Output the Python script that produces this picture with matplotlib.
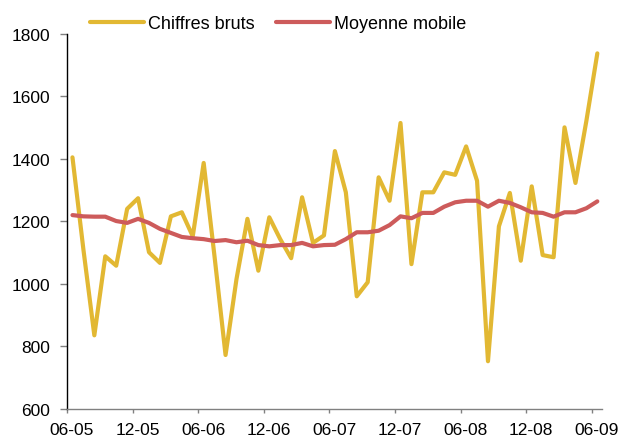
import numpy as np
import matplotlib
matplotlib.use("Agg")
import matplotlib.pyplot as plt

plt.rcParams['font.family'] = ['Liberation Sans', 'DejaVu Sans']

# monthly values, June 2005 .. June 2009
raw = [1405, 1110, 835, 1088, 1058, 1240, 1274, 1101, 1067, 1216,
       1229, 1152, 1387, 1085, 772, 1015, 1208, 1042, 1213, 1143,
       1082, 1277, 1131, 1155, 1425, 1293, 960, 1005, 1341, 1266,
       1515, 1063, 1293, 1293, 1357, 1349, 1440, 1330, 752, 1184,
       1291, 1074, 1312, 1092, 1085, 1501, 1323, 1522, 1738]
moving_avg = [1220, 1216, 1215, 1215, 1201, 1195, 1208, 1195, 1176, 1163,
              1150, 1146, 1143, 1137, 1140, 1133, 1138, 1124, 1120, 1124,
              1124, 1131, 1120, 1124, 1125, 1143, 1165, 1165, 1170, 1188,
              1216, 1210, 1227, 1227, 1247, 1261, 1266, 1266, 1247, 1266,
              1259, 1245, 1229, 1227, 1215, 1229, 1229, 1242, 1264]
tick_labels = ["06-05", "12-05", "06-06", "12-06", "06-07",
               "12-07", "06-08", "12-08", "06-09"]
series_names = ["Chiffres bruts", "Moyenne mobile"]

x = np.arange(len(raw)) + 0.5  # points sit mid-month

fig = plt.figure(figsize=(6.19, 4.39), dpi=100)
ax = fig.add_axes([67 / 619, 29.3 / 439, 534.7 / 619, 374.7 / 439])

ax.plot(x, raw, color='#E2B833', lw=3.0, solid_capstyle='round',
        solid_joinstyle='round', label=series_names[0])
ax.plot(x, moving_avg, color='#CD5B5B', lw=3.0, solid_capstyle='round',
        solid_joinstyle='round', label=series_names[1])

ax.set_xlim(0, 48.9)
ax.set_ylim(600, 1800)
ax.set_yticks(np.arange(600, 1801, 200))

# tick marks at month start, labels a bit to the right (mid-month)
months = np.arange(0, 49, 6)
ax.set_xticks(months)
ax.set_xticklabels([])
ax.set_xticks(months + 0.45, minor=True)
ax.set_xticklabels(tick_labels, minor=True)

for s in ['top', 'right']:
    ax.spines[s].set_visible(False)
ax.spines['left'].set_color('black')
ax.spines['left'].set_linewidth(1.0)
ax.spines['bottom'].set_color('#808080')
ax.spines['bottom'].set_linewidth(1.0)

ax.tick_params(axis='y', direction='out', length=5, width=1, color='#808080',
               labelsize=12.5, pad=7)
ax.tick_params(axis='x', which='major', direction='out', length=3, width=1,
               color='#808080')
ax.tick_params(axis='x', which='minor', length=0, labelsize=12.5, pad=9.5)

ax.legend(loc='center left', bbox_to_anchor=(90 / 619, 414.5 / 439),
          bbox_transform=fig.transFigure, ncol=2, frameon=False,
          borderpad=0, borderaxespad=0, handlelength=3.0, handletextpad=0.2,
          columnspacing=1.2, fontsize=13)

fig.savefig("out.png", dpi=100)
